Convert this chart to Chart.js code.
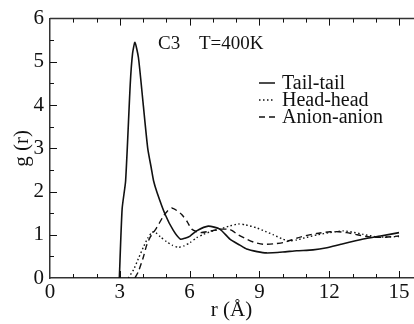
<!DOCTYPE html>
<html>
<head>
<meta charset="UTF-8">
<title>g(r) C3 400K</title>
<script src="https://cdn.jsdelivr.net/npm/chart.js"></script>
<style>
  body { margin: 0; background: #fff; }
  #wrap { width: 414px; height: 324px; }
</style>
</head>
<body>
<div id="wrap"><canvas id="grChart" width="414" height="324"></canvas></div>
<script>
// r (Å) and g(r)
const rTail = [2.98, 3.1, 3.25, 3.45, 3.55, 3.65, 3.8, 4.0, 4.2, 4.35, 4.45, 4.6, 4.95, 5.3, 5.6, 5.8, 6.02, 6.3, 6.8, 7.3, 7.73, 8.16, 8.45, 8.9, 9.31, 10.0, 10.6, 11.3, 11.9, 12.5, 13.46, 14.2, 15.0];
const gTail = [0, 1.6, 2.25, 4.5, 5.2, 5.45, 5.1, 4.05, 3.0, 2.55, 2.25, 1.98, 1.47, 1.1, 0.9, 0.92, 0.97, 1.09, 1.2, 1.13, 0.9, 0.76, 0.67, 0.61, 0.58, 0.6, 0.63, 0.65, 0.7, 0.78, 0.9, 0.97, 1.05];

const rHead = [3.37, 3.6, 3.8, 4.01, 4.2, 4.37, 4.5, 4.75, 5.01, 5.25, 5.51, 5.75, 6.02, 6.3, 6.59, 6.95, 7.3, 7.7, 8.1, 8.4, 8.88, 9.25, 9.6, 10.0, 10.31, 10.6, 11.03, 11.5, 12.03, 12.6, 13.0, 13.46, 14.04, 14.5, 15.0];
const gHead = [0, 0.2, 0.45, 0.71, 0.92, 1.05, 1.07, 0.95, 0.84, 0.76, 0.71, 0.74, 0.82, 0.93, 1.01, 1.08, 1.13, 1.2, 1.25, 1.23, 1.16, 1.08, 1.0, 0.9, 0.86, 0.88, 0.94, 1.0, 1.05, 1.09, 1.06, 1.01, 0.95, 0.95, 0.96];

const rAnion = [3.65, 3.8, 4.01, 4.15, 4.3, 4.58, 4.87, 5.05, 5.23, 5.45, 5.66, 5.9, 6.09, 6.45, 7.02, 7.3, 7.73, 8.09, 8.45, 8.8, 9.17, 9.6, 10.03, 10.6, 11.0, 11.46, 12.03, 12.4, 12.75, 13.2, 13.75, 14.3, 15.0];
const gAnion = [0, 0.15, 0.48, 0.75, 0.94, 1.16, 1.43, 1.55, 1.62, 1.56, 1.47, 1.3, 1.13, 1.05, 1.1, 1.13, 1.12, 1.0, 0.9, 0.82, 0.78, 0.79, 0.82, 0.92, 0.98, 1.03, 1.07, 1.07, 1.05, 1.0, 0.95, 0.94, 0.97];

const seriesNames = ['Tail-tail', 'Head-head', 'Anion-anion'];
const xTicks = [0, 3, 6, 9, 12, 15];
const yTicks = [0, 1, 2, 3, 4, 5, 6];

const serif = '"Liberation Serif", "DejaVu Serif", serif';
const ink = '#111';

function pts(xs, ys) {
    return xs.map((x, i) => ({ x: x, y: ys[i] }));
}

const dashes = [[], [1.5, 2.5], [6, 4]];

// ticks pointing inward, frame on top, text inside the plot
const framePlugin = {
    id: 'frame',
    afterDraw(chart) {
        const c = chart.ctx;
        const a = chart.chartArea;
        const xs = chart.scales.x, ys = chart.scales.y;
        c.save();
        c.strokeStyle = '#333';
        c.lineWidth = 1.5;
        c.beginPath();
        c.moveTo(a.left, a.top); c.lineTo(a.right + 2, a.top);
        c.stroke();

        c.lineWidth = 1;
        c.strokeStyle = ink;
        for (let v = 1; v <= 15; v++) {
            const px = Math.round(xs.getPixelForValue(v)) + 0.5;
            const len = v % 3 === 0 ? 7 : 4;
            c.beginPath();
            c.moveTo(px, a.bottom); c.lineTo(px, a.bottom - len);
            c.moveTo(px, a.top); c.lineTo(px, a.top + len);
            c.stroke();
        }
        for (let v = 0.5; v < 6; v += 0.5) {
            const py = Math.round(ys.getPixelForValue(v)) + 0.5;
            const len = Number.isInteger(v) ? 7 : 4;
            c.beginPath();
            c.moveTo(a.left, py); c.lineTo(a.left + len, py);
            c.stroke();
        }

        c.fillStyle = ink;
        c.font = '19px ' + serif;
        c.textBaseline = 'middle';
        c.textAlign = 'left';
        c.fillText('C3', 158, 44);
        c.fillText('T=400K', 199, 44);

        c.font = '20px ' + serif;
        const rows = [83, 100, 117];
        rows.forEach((y, i) => {
            c.beginPath();
            c.lineWidth = 1.5;
            c.setLineDash(dashes[i]);
            c.moveTo(259, y); c.lineTo(275, y);
            c.stroke();
            c.setLineDash([]);
            c.fillText(seriesNames[i], 282, y + 1);
        });
        c.restore();
    }
};

const ctx = document.getElementById('grChart').getContext('2d');
const chart = new Chart(ctx, {
    type: 'line',
    data: {
        datasets: [
            { label: seriesNames[0], data: pts(rTail, gTail), borderDash: dashes[0], borderWidth: 1.6 },
            { label: seriesNames[1], data: pts(rHead, gHead), borderDash: dashes[1], borderWidth: 1.4 },
            { label: seriesNames[2], data: pts(rAnion, gAnion), borderDash: dashes[2], borderWidth: 1.4 }
        ].map(d => Object.assign(d, { borderColor: ink, pointRadius: 0, tension: 0.2, fill: false }))
    },
    options: {
        responsive: false,
        animation: false,
        layout: { padding: { top: 17, right: 1, left: 0, bottom: 0 } },
        plugins: { legend: { display: false }, tooltip: { enabled: false } },
        scales: {
            x: {
                type: 'linear',
                min: 0, max: 15.6,
                grid: { display: false, drawTicks: false },
                border: { display: true, color: '#333', width: 1.5 },
                afterBuildTicks(s) { s.ticks = xTicks.map(v => ({ value: v })); },
                afterFit(s) { s.height = 46; },
                ticks: { color: ink, font: { family: serif, size: 21 }, padding: 2, maxRotation: 0 },
                title: { display: true, text: 'r (Å)', color: ink, font: { family: serif, size: 21 }, padding: { top: 0, bottom: 1 } }
            },
            y: {
                min: 0, max: 6,
                grid: { display: false, drawTicks: false },
                border: { display: true, color: '#333', width: 1.5 },
                afterBuildTicks(s) { s.ticks = yTicks.map(v => ({ value: v })); },
                afterFit(s) { s.width = 50; },
                ticks: { color: ink, font: { family: serif, size: 21 }, padding: 6 },
                title: { display: true, text: 'g (r)', color: ink, font: { family: serif, size: 21 }, padding: { top: 10, bottom: 0 } }
            }
        }
    },
    plugins: [framePlugin]
});
</script>
</body>
</html>
